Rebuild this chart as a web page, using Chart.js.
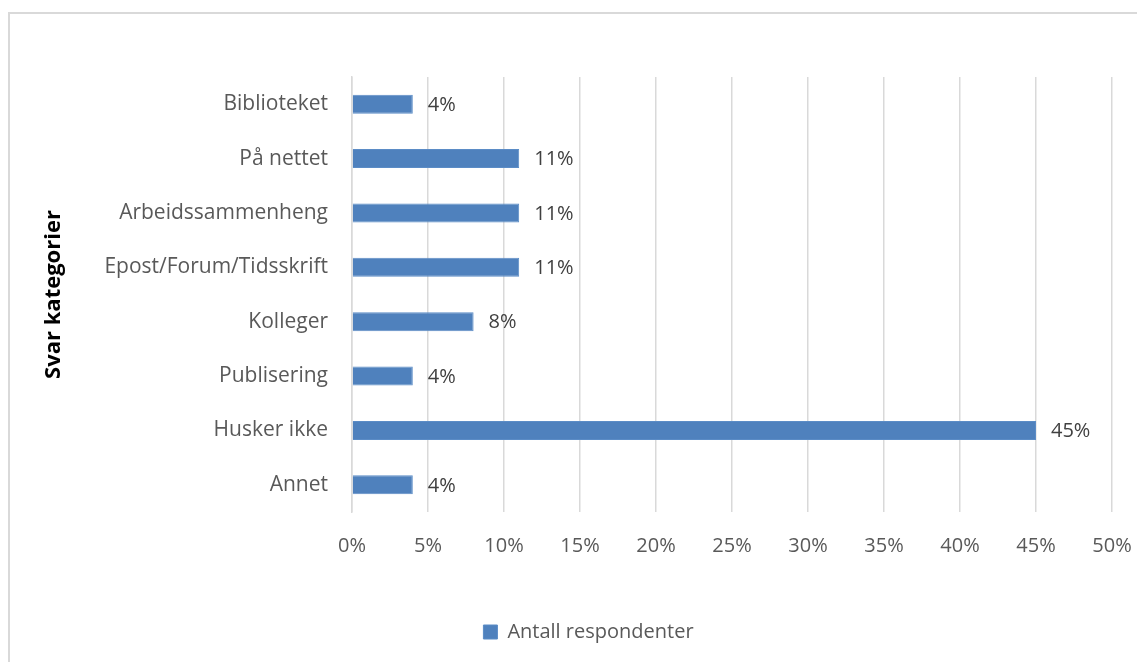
<!DOCTYPE html>
<html>
<head>
<meta charset="utf-8">
<script src="https://cdn.jsdelivr.net/npm/chart.js@4"></script>
<style>
  html, body { margin: 0; padding: 0; background: #fff; overflow: hidden; }
  #frame {
    position: absolute; left: 8px; top: 12px; width: 1200px; height: 700px;
    border-left: 2px solid #d9d9d9; border-top: 2px solid #d9d9d9;
  }
  #wrap { position: absolute; left: 0; top: 0; width: 1137px; height: 662px; }
</style>
</head>
<body>
<div id="frame"></div>
<div id="wrap"><canvas id="chart"></canvas></div>
<script>
const categories = [
  "Biblioteket",
  "På nettet",
  "Arbeidssammenheng",
  "Epost/Forum/Tidsskrift",
  "Kolleger",
  "Publisering",
  "Husker ikke",
  "Annet"
];
const respondents = [4, 11, 11, 11, 8, 4, 45, 4];
const seriesName = "Antall respondenter";
const axisTitle = "Svar kategorier";

const FONT = "'Open Sans', sans-serif";

// draws the "4%" style labels right of each bar
const valueLabels = {
  id: "valueLabels",
  afterDatasetsDraw(chart) {
    const ctx = chart.ctx;
    const meta = chart.getDatasetMeta(0);
    ctx.save();
    ctx.font = "20px " + FONT;
    ctx.fillStyle = "#404040";
    ctx.textAlign = "left";
    ctx.textBaseline = "middle";
    meta.data.forEach((bar, i) => {
      ctx.fillText(chart.data.datasets[0].data[i] + "%", bar.x + 15, bar.y + 1);
    });
    ctx.restore();
  }
};

const ctx = document.getElementById("chart").getContext("2d");
new Chart(ctx, {
  type: "bar",
  data: {
    labels: categories,
    datasets: [
      {
        label: seriesName,
        data: respondents,
        backgroundColor: "#4F81BD",
        borderColor: "#5B8CC6",
        borderWidth: 1,
        barPercentage: 0.7,
        categoryPercentage: 0.5,
      },
    ],
  },
  options: {
    indexAxis: "y",
    responsive: true,
    maintainAspectRatio: false,
    animation: false,
    layout: { padding: { left: 40, top: 77, right: 0, bottom: 10 } },
    scales: {
      x: {
        min: 0,
        max: 50,
        ticks: {
          stepSize: 5,
          color: "#595959",
          font: { family: FONT, size: 20 },
          padding: 22,
          callback: (v) => v + "%",
        },
        grid: { color: "#d9d9d9", lineWidth: 1.5, drawTicks: false },
        border: { display: false },
        afterFit(scale) { scale.height = 100; scale.paddingRight = 25; },
      },
      y: {
        ticks: {
          color: "#595959",
          font: { family: FONT, size: 21 },
          padding: 16,
        },
        grid: { display: false },
        border: { display: true, color: "#d9d9d9", width: 1.5 },
        title: {
          display: true,
          text: axisTitle,
          color: "#000",
          font: { family: FONT, size: 22, weight: "bold" },
          padding: { top: 1, bottom: 0 },
        },
        afterFit(scale) { scale.width = 312; },
      },
    },
    plugins: {
      legend: {
        position: "bottom",
        labels: {
          color: "#595959",
          font: { family: FONT, size: 20 },
          boxWidth: 14,
          boxHeight: 14,
          padding: 10,
        },
      },
      tooltip: { enabled: false },
    },
  },
  plugins: [valueLabels],
});
</script>
</body>
</html>
